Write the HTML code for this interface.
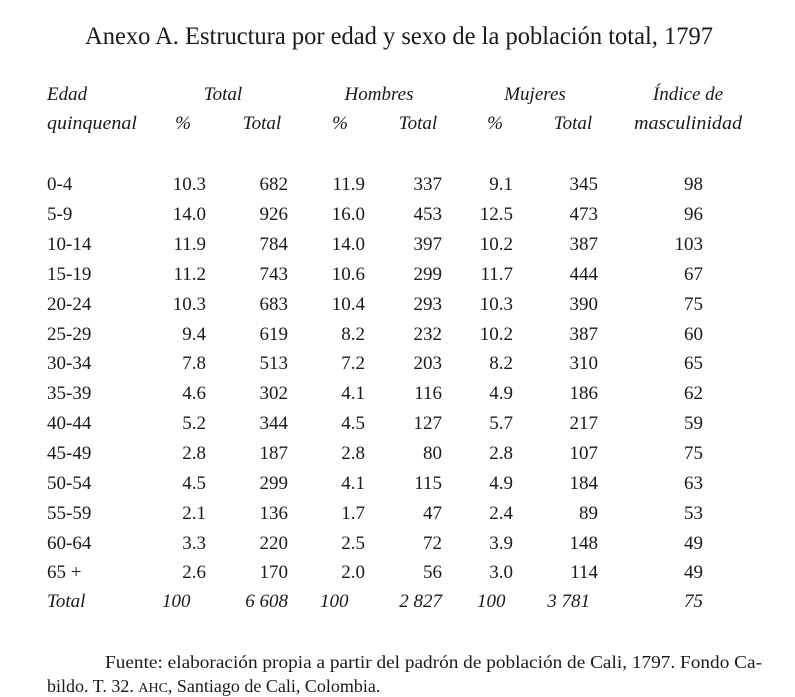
<!DOCTYPE html>
<html><head><meta charset="utf-8"><style>
html,body{margin:0;padding:0;background:#fff;}
svg{display:block;}
text{font-family:"Liberation Serif",serif;fill:#1a1a1a;}
.n{font-size:19px;text-anchor:end;}
.h{font-size:19px;font-style:italic;}
</style></head><body>
<svg width="795" height="697" viewBox="0 0 795 697">
<text x="85" y="44" font-size="25" textLength="628" lengthAdjust="spacingAndGlyphs">Anexo A. Estructura por edad y sexo de la población total, 1797</text>
<g class="h">
<text x="47" y="100">Edad</text>
<text x="47" y="129" textLength="90" lengthAdjust="spacingAndGlyphs">quinquenal</text>
<text x="223" y="100" text-anchor="middle">Total</text>
<text x="379" y="100" text-anchor="middle">Hombres</text>
<text x="535" y="100" text-anchor="middle">Mujeres</text>
<text x="688" y="100" text-anchor="middle">Índice de</text>
<text x="183" y="129" text-anchor="middle">%</text>
<text x="262" y="129" text-anchor="middle">Total</text>
<text x="340" y="129" text-anchor="middle">%</text>
<text x="418" y="129" text-anchor="middle">Total</text>
<text x="495" y="129" text-anchor="middle">%</text>
<text x="573" y="129" text-anchor="middle">Total</text>
<text x="688" y="129" text-anchor="middle" textLength="108" lengthAdjust="spacingAndGlyphs">masculinidad</text>
</g>
<g id="rows"></g>
<g class="h">
<text x="47" y="607">Total</text>
<text x="162" y="607">100</text>
<text x="288" y="607" text-anchor="end">6 608</text>
<text x="320" y="607">100</text>
<text x="442" y="607" text-anchor="end">2 827</text>
<text x="477" y="607">100</text>
<text x="590" y="607" text-anchor="end">3 781</text>
<text x="703" y="607" text-anchor="end">75</text>
</g>
<text x="105" y="668" font-size="18" textLength="657" lengthAdjust="spacingAndGlyphs">Fuente: elaboración propia a partir del padrón de población de Cali, 1797. Fondo Ca-</text>
<text x="47" y="692" font-size="18">bildo. T. 32. <tspan font-size="14">AHC</tspan>, Santiago de Cali, Colombia.</text>
<g font-size="19">
<g class="n">
<text x="60" y="0"></text>
</g>
</g>
<g id="data" font-size="19"></g>
<g font-size="19">
<!-- rows -->
<text x="47" y="190">0-4</text><text x="206" y="190" text-anchor="end">10.3</text><text x="288" y="190" text-anchor="end">682</text><text x="365" y="190" text-anchor="end">11.9</text><text x="442" y="190" text-anchor="end">337</text><text x="513" y="190" text-anchor="end">9.1</text><text x="598" y="190" text-anchor="end">345</text><text x="703" y="190" text-anchor="end">98</text>
<text x="47" y="220">5-9</text><text x="206" y="220" text-anchor="end">14.0</text><text x="288" y="220" text-anchor="end">926</text><text x="365" y="220" text-anchor="end">16.0</text><text x="442" y="220" text-anchor="end">453</text><text x="513" y="220" text-anchor="end">12.5</text><text x="598" y="220" text-anchor="end">473</text><text x="703" y="220" text-anchor="end">96</text>
<text x="47" y="250">10-14</text><text x="206" y="250" text-anchor="end">11.9</text><text x="288" y="250" text-anchor="end">784</text><text x="365" y="250" text-anchor="end">14.0</text><text x="442" y="250" text-anchor="end">397</text><text x="513" y="250" text-anchor="end">10.2</text><text x="598" y="250" text-anchor="end">387</text><text x="703" y="250" text-anchor="end">103</text>
<text x="47" y="280">15-19</text><text x="206" y="280" text-anchor="end">11.2</text><text x="288" y="280" text-anchor="end">743</text><text x="365" y="280" text-anchor="end">10.6</text><text x="442" y="280" text-anchor="end">299</text><text x="513" y="280" text-anchor="end">11.7</text><text x="598" y="280" text-anchor="end">444</text><text x="703" y="280" text-anchor="end">67</text>
<text x="47" y="310">20-24</text><text x="206" y="310" text-anchor="end">10.3</text><text x="288" y="310" text-anchor="end">683</text><text x="365" y="310" text-anchor="end">10.4</text><text x="442" y="310" text-anchor="end">293</text><text x="513" y="310" text-anchor="end">10.3</text><text x="598" y="310" text-anchor="end">390</text><text x="703" y="310" text-anchor="end">75</text>
<text x="47" y="340">25-29</text><text x="206" y="340" text-anchor="end">9.4</text><text x="288" y="340" text-anchor="end">619</text><text x="365" y="340" text-anchor="end">8.2</text><text x="442" y="340" text-anchor="end">232</text><text x="513" y="340" text-anchor="end">10.2</text><text x="598" y="340" text-anchor="end">387</text><text x="703" y="340" text-anchor="end">60</text>
<text x="47" y="369">30-34</text><text x="206" y="369" text-anchor="end">7.8</text><text x="288" y="369" text-anchor="end">513</text><text x="365" y="369" text-anchor="end">7.2</text><text x="442" y="369" text-anchor="end">203</text><text x="513" y="369" text-anchor="end">8.2</text><text x="598" y="369" text-anchor="end">310</text><text x="703" y="369" text-anchor="end">65</text>
<text x="47" y="399">35-39</text><text x="206" y="399" text-anchor="end">4.6</text><text x="288" y="399" text-anchor="end">302</text><text x="365" y="399" text-anchor="end">4.1</text><text x="442" y="399" text-anchor="end">116</text><text x="513" y="399" text-anchor="end">4.9</text><text x="598" y="399" text-anchor="end">186</text><text x="703" y="399" text-anchor="end">62</text>
<text x="47" y="429">40-44</text><text x="206" y="429" text-anchor="end">5.2</text><text x="288" y="429" text-anchor="end">344</text><text x="365" y="429" text-anchor="end">4.5</text><text x="442" y="429" text-anchor="end">127</text><text x="513" y="429" text-anchor="end">5.7</text><text x="598" y="429" text-anchor="end">217</text><text x="703" y="429" text-anchor="end">59</text>
<text x="47" y="459">45-49</text><text x="206" y="459" text-anchor="end">2.8</text><text x="288" y="459" text-anchor="end">187</text><text x="365" y="459" text-anchor="end">2.8</text><text x="442" y="459" text-anchor="end">80</text><text x="513" y="459" text-anchor="end">2.8</text><text x="598" y="459" text-anchor="end">107</text><text x="703" y="459" text-anchor="end">75</text>
<text x="47" y="489">50-54</text><text x="206" y="489" text-anchor="end">4.5</text><text x="288" y="489" text-anchor="end">299</text><text x="365" y="489" text-anchor="end">4.1</text><text x="442" y="489" text-anchor="end">115</text><text x="513" y="489" text-anchor="end">4.9</text><text x="598" y="489" text-anchor="end">184</text><text x="703" y="489" text-anchor="end">63</text>
<text x="47" y="519">55-59</text><text x="206" y="519" text-anchor="end">2.1</text><text x="288" y="519" text-anchor="end">136</text><text x="365" y="519" text-anchor="end">1.7</text><text x="442" y="519" text-anchor="end">47</text><text x="513" y="519" text-anchor="end">2.4</text><text x="598" y="519" text-anchor="end">89</text><text x="703" y="519" text-anchor="end">53</text>
<text x="47" y="549">60-64</text><text x="206" y="549" text-anchor="end">3.3</text><text x="288" y="549" text-anchor="end">220</text><text x="365" y="549" text-anchor="end">2.5</text><text x="442" y="549" text-anchor="end">72</text><text x="513" y="549" text-anchor="end">3.9</text><text x="598" y="549" text-anchor="end">148</text><text x="703" y="549" text-anchor="end">49</text>
<text x="47" y="578">65 +</text><text x="206" y="578" text-anchor="end">2.6</text><text x="288" y="578" text-anchor="end">170</text><text x="365" y="578" text-anchor="end">2.0</text><text x="442" y="578" text-anchor="end">56</text><text x="513" y="578" text-anchor="end">3.0</text><text x="598" y="578" text-anchor="end">114</text><text x="703" y="578" text-anchor="end">49</text>
</g>
</svg>
</body></html>
